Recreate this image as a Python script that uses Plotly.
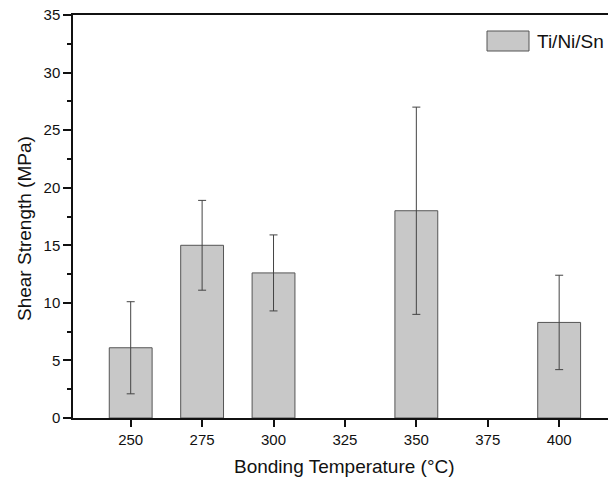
import plotly.graph_objects as go

temps = [250, 275, 300, 350, 400]
strength = [6.1, 15.0, 12.6, 18.0, 8.3]
err = [4.0, 3.9, 3.3, 9.0, 4.1]
x_ticks = [250, 275, 300, 325, 350, 375, 400]
series_name = "Ti/Ni/Sn"
x_title = "Bonding Temperature (°C)"
y_title = "Shear Strength (MPa)"

FONT = "Liberation Sans, Arial, sans-serif"

# plot-area geometry in pixels (used to place the hand-drawn legend and titles)
L, R, T, B = 73, 608, 15, 418


def px(x):
    return (x - L) / (R - L)


def py(y):
    return (B - y) / (B - T)


fig = go.Figure()
fig.add_trace(go.Bar(
    x=temps, y=strength, width=15, name=series_name,
    marker=dict(color="#c8c8c8", line=dict(color="#555555", width=1)),
    error_y=dict(type="data", array=err, visible=True, color="#444444",
                 thickness=1, width=4),
    showlegend=False,
))

# legend drawn as box + text
fig.add_shape(type="rect", xref="paper", yref="paper",
              x0=px(487), x1=px(529), y0=py(51), y1=py(31),
              fillcolor="#c8c8c8", line=dict(color="#555555", width=1))
fig.add_annotation(xref="paper", yref="paper", x=px(535), y=py(41),
                   text=series_name, showarrow=False,
                   xanchor="left", yanchor="middle",
                   font=dict(family=FONT, size=19, color="#111111"))

# axis titles
fig.add_annotation(xref="paper", yref="paper", x=px(344.5), y=py(467),
                   text=x_title, showarrow=False,
                   xanchor="center", yanchor="middle",
                   font=dict(family=FONT, size=19, color="#111111"))
fig.add_annotation(xref="paper", yref="paper", x=px(24), y=py(229),
                   text=y_title, showarrow=False, textangle=-90,
                   xanchor="center", yanchor="middle",
                   font=dict(family=FONT, size=19, color="#111111"))

fig.update_layout(
    width=608, height=482,
    margin=dict(l=L, r=608 - R, t=T, b=482 - B),
    plot_bgcolor="white", paper_bgcolor="white",
    font=dict(family=FONT, size=15, color="#111111"),
    xaxis=dict(range=[229.8, 417.1], tickvals=x_ticks,
               ticks="outside", ticklen=7, tickwidth=1.5, tickcolor="#111111",
               showline=True, linecolor="#111111", linewidth=1.5, mirror=True,
               showgrid=False, zeroline=False),
    yaxis=dict(range=[0, 35], dtick=5, tick0=0,
               ticks="outside", ticklen=8, tickwidth=1.5, tickcolor="#111111",
               minor=dict(dtick=2.5, ticks="outside", ticklen=4,
                          tickwidth=1.5, tickcolor="#111111"),
               showline=True, linecolor="#111111", linewidth=1.5,
               showgrid=False, zeroline=False),
)

fig.write_html("out.html")
